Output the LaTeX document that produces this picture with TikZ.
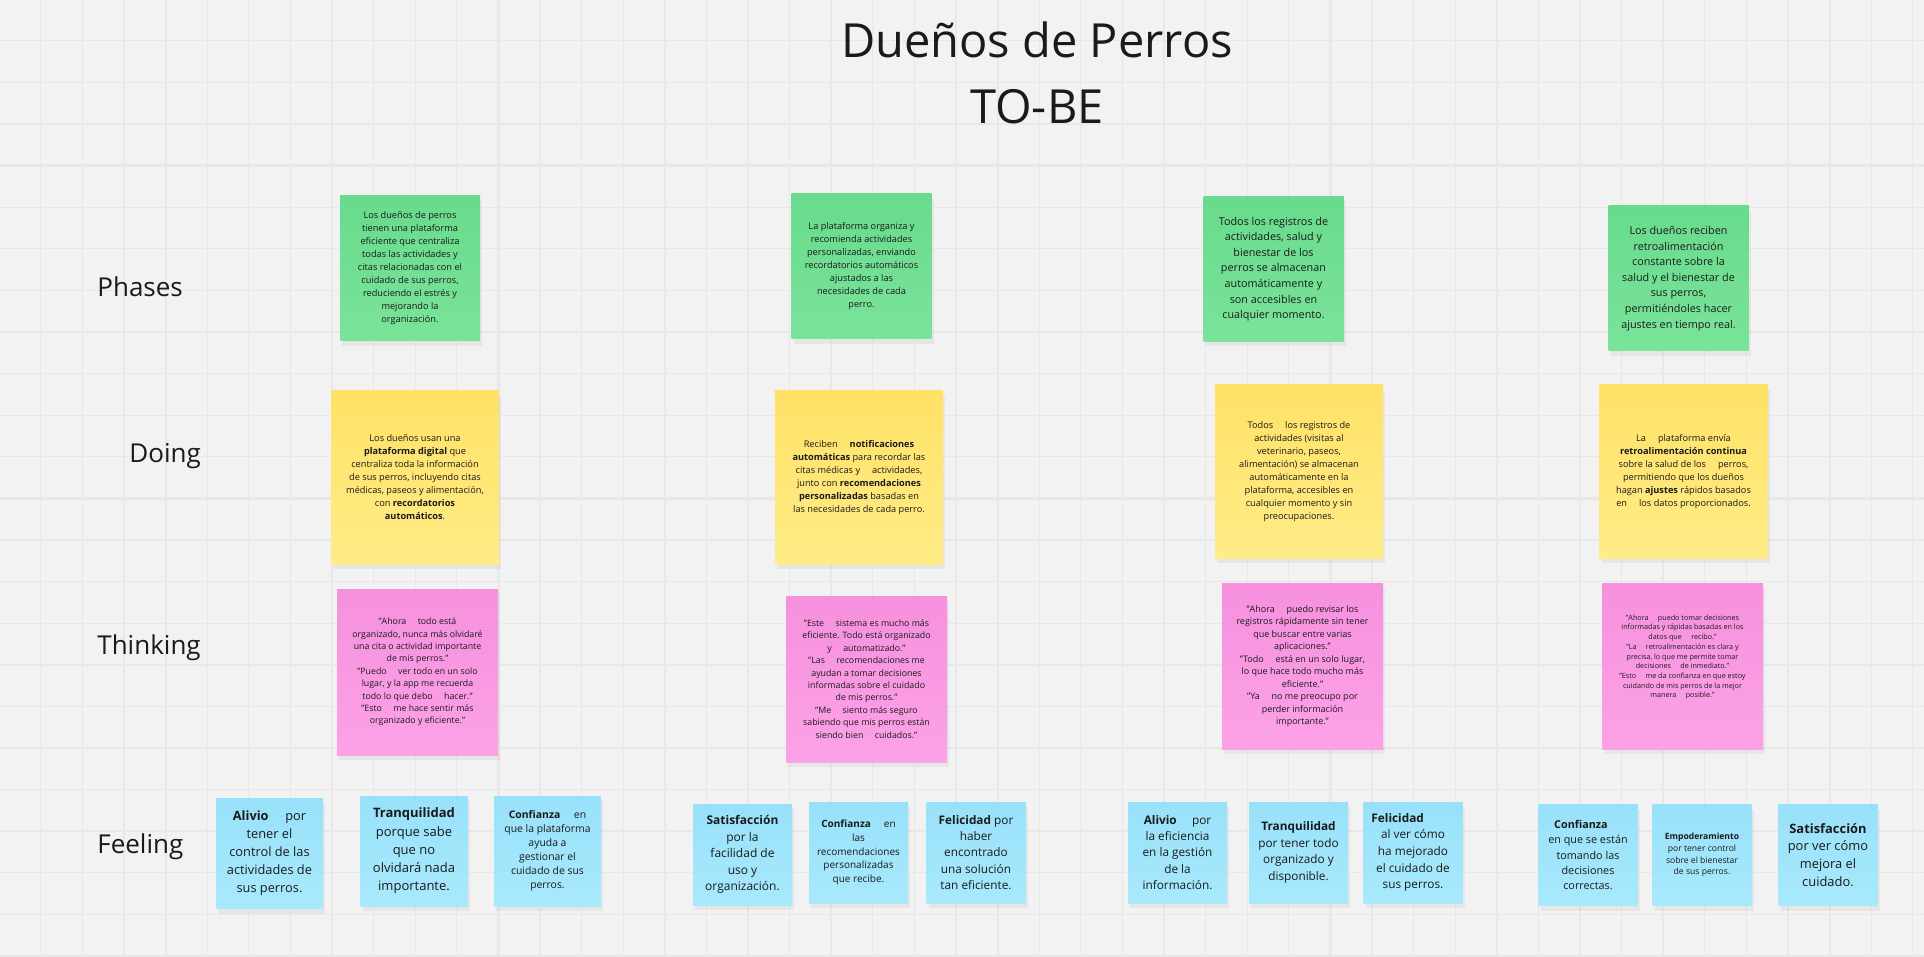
\documentclass[tikz,border=0pt]{standalone}
\usepackage{fontspec}
\setmainfont{Open Sans}
\usepackage{tikz}
\usetikzlibrary{shadows}

\definecolor{boardbg}{RGB}{242,242,242}
\definecolor{gridline}{RGB}{232,232,232}
\definecolor{greentop}{RGB}{104,219,140}
\definecolor{greenbot}{RGB}{122,227,154}
\definecolor{yellowtop}{RGB}{255,225,102}
\definecolor{yellowbot}{RGB}{255,236,135}
\definecolor{pinktop}{RGB}{246,144,222}
\definecolor{pinkbot}{RGB}{252,162,231}
\definecolor{bluetop}{RGB}{152,225,250}
\definecolor{bluebot}{RGB}{168,233,252}
\definecolor{ink}{RGB}{26,26,26}

\newcommand{\fsz}[2]{\fontsize{#1}{#2}\selectfont}
\newcommand{\wgap}{\hspace{1.3em}}

\begin{document}
\begin{tikzpicture}[x=0.5pt, y=-0.5pt,
    note/.style={inner sep=0pt, align=center, text=ink,
      drop shadow={opacity=0.10, shadow xshift=1pt, shadow yshift=-2.5pt}},
    phase/.style={note, top color=greentop, bottom color=greenbot,
      minimum width=70pt, minimum height=72.5pt},
    doing/.style={note, top color=yellowtop, bottom color=yellowbot,
      minimum width=84pt, minimum height=86.5pt},
    thinking/.style={note, top color=pinktop, bottom color=pinkbot,
      minimum width=80.5pt, minimum height=83pt},
    feeling/.style={note, top color=bluetop, bottom color=bluebot,
      minimum width=49.5pt, minimum height=50.5pt},
    bigfeeling/.style={feeling, minimum width=53.5pt, minimum height=55pt},
    rowlabel/.style={anchor=west, inner sep=0pt, text=ink, font=\fsz{13}{16}}]

    % board
    \useasboundingbox (0,0) rectangle (1924,957);
    \fill[boardbg] (0,0) rectangle (1924,957);
    \foreach \k in {1,...,46}
      \draw[gridline, line width=0.6pt] ({\k*41.6-0.8},0) -- ({\k*41.6-0.8},957);
    \foreach \k in {1,...,23}
      \draw[gridline, line width=0.6pt] (0,{\k*41.6-0.8}) -- (1924,{\k*41.6-0.8});
    \foreach \k in {4,8,...,44}
      \draw[gridline, line width=1.1pt] ({\k*41.6-0.8},0) -- ({\k*41.6-0.8},957);
    \foreach \k in {4,8,...,20}
      \draw[gridline, line width=1.1pt] (0,{\k*41.6-0.8}) -- (1924,{\k*41.6-0.8});

    % title
    \node[align=center, text=ink, font=\fsz{23.5}{33}] (title) at (1037,73)
      {Dueños de Perros\\TO-BE};

    % row labels
    \node[rowlabel] (lphases) at (97,287) {Phases};
    \node[rowlabel] (ldoing) at (129,456) {Doing};
    \node[rowlabel] (lthinking) at (97,648) {Thinking};
    \node[rowlabel] (lfeeling) at (97,847) {Feeling};

    % phases
    \node[phase, font=\fsz{4.6}{6.5}] (ph1) at (410,268.5)
      {Los dueños de perros\\tienen una plataforma\\eficiente que centraliza\\todas las actividades y\\citas relacionadas con el\\cuidado de sus perros,\\reduciendo el estrés y\\mejorando la\\organización.};
    \node[phase, font=\fsz{4.6}{6.5}] (ph2) at (861.5,266.5)
      {La plataforma organiza y\\recomienda actividades\\personalizadas, enviando\\recordatorios automáticos\\ajustados a las\\necesidades de cada\\perro.};
    \node[phase, font=\fsz{5.4}{7.8}] (ph3) at (1273.5,269)
      {Todos los registros de\\actividades, salud y\\bienestar de los\\perros se almacenan\\automáticamente y\\son accesibles en\\cualquier momento.};
    \node[phase, font=\fsz{5.4}{7.8}] (ph4) at (1678.5,278.5)
      {Los dueños reciben\\retroalimentación\\constante sobre la\\salud y el bienestar de\\sus perros,\\permitiéndoles hacer\\ajustes en tiempo real.};

    % doing
    \node[doing, font=\fsz{4.6}{6.5}] (do1) at (415,477.5)
      {Los dueños usan una\\\textbf{plataforma digital} que\\centraliza toda la información\\de sus perros, incluyendo citas\\médicas, paseos y alimentación,\\con \textbf{recordatorios}\\\textbf{automáticos}.};
    \node[doing, font=\fsz{4.6}{6.5}] (do2) at (859,477.5)
      {Reciben\wgap\textbf{notificaciones}\\\textbf{automáticas} para recordar las\\citas médicas y\wgap actividades,\\junto con \textbf{recomendaciones}\\\textbf{personalizadas} basadas en\\las necesidades de cada perro.};
    \node[doing, font=\fsz{4.6}{6.5}] (do3) at (1299,471.5)
      {Todos\wgap los registros de\\actividades (visitas al\\veterinario, paseos,\\alimentación) se almacenan\\automáticamente en la\\plataforma, accesibles en\\cualquier momento y sin\\preocupaciones.};
    \node[doing, font=\fsz{4.6}{6.5}] (do4) at (1683.5,471.5)
      {La\wgap plataforma envía\\\textbf{retroalimentación continua}\\sobre la salud de los\wgap perros,\\permitiendo que los dueños\\hagan \textbf{ajustes} rápidos basados\\en\wgap los datos proporcionados.};

    % thinking
    \node[thinking, font=\fsz{4.4}{6.2}] (th1) at (417.5,672)
      {"Ahora\wgap todo está\\organizado, nunca más olvidaré\\una cita o actividad importante\\de mis perros."\\"Puedo\wgap ver todo en un solo\\lugar, y la app me recuerda\\todo lo que debo\wgap hacer."\\"Esto\wgap me hace sentir más\\organizado y eficiente."};
    \node[thinking, font=\fsz{4.4}{6.2}] (th2) at (866.5,679)
      {"Este\wgap sistema es mucho más\\eficiente. Todo está organizado\\y\wgap automatizado."\\"Las\wgap recomendaciones me\\ayudan a tomar decisiones\\informadas sobre el cuidado\\de mis perros."\\"Me\wgap siento más seguro\\sabiendo que mis perros están\\siendo bien\wgap cuidados."};
    \node[thinking, font=\fsz{4.5}{6.25}] (th3) at (1302.5,666)
      {"Ahora\wgap puedo revisar los\\registros rápidamente sin tener\\que buscar entre varias\\aplicaciones."\\"Todo\wgap está en un solo lugar,\\lo que hace todo mucho más\\eficiente."\\"Ya\wgap no me preocupo por\\perder información\\importante."};
    \node[thinking, font=\fsz{3.6}{4.85}] (th4) at (1682.5,666)
      {"Ahora\wgap puedo tomar decisiones\\informadas y rápidas basadas en los\\datos que\wgap recibo."\\"La\wgap retroalimentación es clara y\\precisa, lo que me permite tomar\\decisiones\wgap de inmediato."\\"Esto\wgap me da confianza en que estoy\\cuidando de mis perros de la mejor\\manera\wgap posible."\\\mbox{}\\\mbox{}};

    % feeling
    \node[bigfeeling, font=\fsz{6.4}{9}] (fe1) at (269.5,853.5)
      {\textbf{Alivio}\wgap por\\tener el\\control de las\\actividades de\\sus perros.};
    \node[bigfeeling, font=\fsz{6.5}{9.15}] (fe2) at (414,851)
      {\textbf{Tranquilidad}\\porque sabe\\que no\\olvidará nada\\importante.};
    \node[bigfeeling, font=\fsz{5.2}{7}] (fe3) at (547.5,851)
      {\textbf{Confianza}\wgap en\\que la plataforma\\ayuda a\\gestionar el\\cuidado de sus\\perros.};
    \node[feeling, font=\fsz{6}{8.3}] (fe4) at (742.5,854.5)
      {\textbf{Satisfacción}\\por la\\facilidad de\\uso y\\organización.};
    \node[feeling, font=\fsz{5}{6.8}] (fe5) at (858.5,852.5)
      {\textbf{Confianza}\wgap en\\las\\recomendaciones\\personalizadas\\que recibe.};
    \node[feeling, font=\fsz{5.9}{8.15}] (fe6) at (976,852.5)
      {\textbf{Felicidad} por\\haber\\encontrado\\una solución\\tan eficiente.};
    \node[feeling, font=\fsz{5.9}{8.15}] (fe7) at (1177.5,852.5)
      {\textbf{Alivio}\wgap por\\la eficiencia\\en la gestión\\de la\\información.};
    \node[feeling, font=\fsz{5.9}{8.3}] (fe8) at (1298.5,852.5)
      {\textbf{Tranquilidad}\\por tener todo\\organizado y\\disponible.};
    \node[feeling, font=\fsz{5.9}{8.3}] (fe9) at (1413,852.5)
      {\textbf{Felicidad}\wgap\wgap\mbox{}\\al ver cómo\\ha mejorado\\el cuidado de\\sus perros.};
    \node[feeling, font=\fsz{5.4}{7.65}] (fe10) at (1588,855)
      {\textbf{Confianza}\wgap\mbox{}\\en que se están\\tomando las\\decisiones\\correctas.};
    \node[feeling, font=\fsz{4.3}{5.8}] (fe11) at (1702,855)
      {\textbf{Empoderamiento}\\por tener control\\sobre el bienestar\\de sus perros.};
    \node[feeling, font=\fsz{6.45}{8.9}] (fe12) at (1828,855)
      {\textbf{Satisfacción}\\por ver cómo\\mejora el\\cuidado.};
\end{tikzpicture}
\end{document}
